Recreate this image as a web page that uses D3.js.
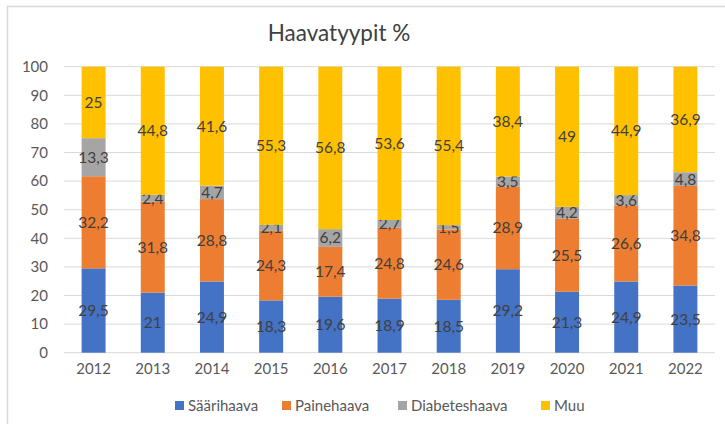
<!DOCTYPE html>
<html>
<head>
<meta charset="utf-8">
<script src="https://cdn.jsdelivr.net/npm/d3@7"></script>
<style>
body { margin: 0; background: #fff; }
text { font-family: Lato, "Open Sans", sans-serif; }
</style>
</head>
<body>
<div id="vis"></div>
<script>
// data
var years = ["2012","2013","2014","2015","2016","2017","2018","2019","2020","2021","2022"];
var saari = [29.5, 21, 24.9, 18.3, 19.6, 18.9, 18.5, 29.2, 21.3, 24.9, 23.5];
var paine = [32.2, 31.8, 28.8, 24.3, 17.4, 24.8, 24.6, 28.9, 25.5, 26.6, 34.8];
var diabetes = [13.3, 2.4, 4.7, 2.1, 6.2, 2.7, 1.5, 3.5, 4.2, 3.6, 4.8];
var muu = [25, 44.8, 41.6, 55.3, 56.8, 53.6, 55.4, 38.4, 49, 44.9, 36.9];
var seriesNames = ["Säärihaava", "Painehaava", "Diabeteshaava", "Muu"];
var yTicks = [0,10,20,30,40,50,60,70,80,90,100];

var w = 725;
var h = 424;

var svg = d3.select("#vis")
.append("svg")
.attr("width", w)
.attr("height", h);

// chart frame
svg.append("rect")
.attr("x", 7.5).attr("y", 6.5)
.attr("width", w + 10).attr("height", h + 10)
.attr("fill", "#fff")
.attr("stroke", "#d9d9d9")
.attr("stroke-width", 1.5);

svg.append("text")
.attr("x", 339).attr("y", 41)
.attr("text-anchor", "middle")
.attr("font-size", 22.5)
.attr("fill", "#404040")
.text("Haavatyypit %");

var table = years.map((y, i) => ({
  year: y,
  "Säärihaava": saari[i],
  "Painehaava": paine[i],
  "Diabeteshaava": diabetes[i],
  "Muu": muu[i]
}));

var stacked = d3.stack().keys(seriesNames)(table);

var x = d3.scaleBand()
.domain(years)
.range([64, 715])
.paddingInner(0.595)
.paddingOuter(0.2975);

var y = d3.scaleLinear()
.domain([0, 100])
.range([352.7, 66.7]);

var colors = d3.scaleOrdinal()
.domain(seriesNames)
.range(["#4472c4", "#ed7d31", "#a5a5a5", "#ffc000"]);

// gridlines
svg.append("g")
.selectAll("line")
.data(yTicks)
.enter()
.append("line")
.attr("x1", 64).attr("x2", 715)
.attr("y1", d => y(d)).attr("y2", d => y(d))
.attr("stroke", "#d9d9d9")
.attr("stroke-width", 1);

// y axis
var yAxis = svg.append("g")
.attr("transform", "translate(64,0)")
.call(d3.axisLeft(y).tickValues(yTicks).tickSize(0).tickPadding(16));
yAxis.select(".domain").remove();
yAxis.selectAll("text").attr("font-size", 15).attr("fill", "#595959").attr("font-family", "Lato, sans-serif");

// x axis
var xAxis = svg.append("g")
.attr("transform", "translate(0,352.7)")
.call(d3.axisBottom(x).tickSize(0).tickPadding(11));
xAxis.select(".domain").remove();
xAxis.selectAll("text").attr("font-size", 15).attr("fill", "#595959").attr("font-family", "Lato, sans-serif");

// bars
var layers = svg.selectAll(".layer")
.data(stacked)
.enter()
.append("g")
.attr("class", "layer")
.attr("fill", d => colors(d.key));

layers.selectAll("rect")
.data(d => d)
.enter()
.append("rect")
.attr("x", d => x(d.data.year))
.attr("y", d => y(d[1]))
.attr("width", x.bandwidth())
.attr("height", d => y(d[0]) - y(d[1]));

// value labels
layers.selectAll("text")
.data(d => d.map(v => ({ v: v, key: d.key })))
.enter()
.append("text")
.attr("x", d => x(d.v.data.year) + x.bandwidth() / 2)
.attr("y", d => (y(d.v[0]) + y(d.v[1])) / 2)
.attr("dy", "0.35em")
.attr("text-anchor", "middle")
.attr("font-size", 15.5)
.attr("fill", "#404040")
.text(d => String(d.v.data[d.key]).replace(".", ","));

// legend
var legendX = [175, 282, 398, 541];
var legend = svg.append("g")
.selectAll("g")
.data(seriesNames)
.enter()
.append("g")
.attr("transform", (d, i) => `translate(${legendX[i]}, 406)`);

legend.append("rect")
.attr("x", 0).attr("y", -5)
.attr("width", 9).attr("height", 9)
.attr("fill", d => colors(d));

legend.append("text")
.attr("x", 13).attr("y", 0)
.attr("dy", "0.35em")
.attr("font-size", 15)
.attr("fill", "#595959")
.text(d => d);
</script>
</body>
</html>
